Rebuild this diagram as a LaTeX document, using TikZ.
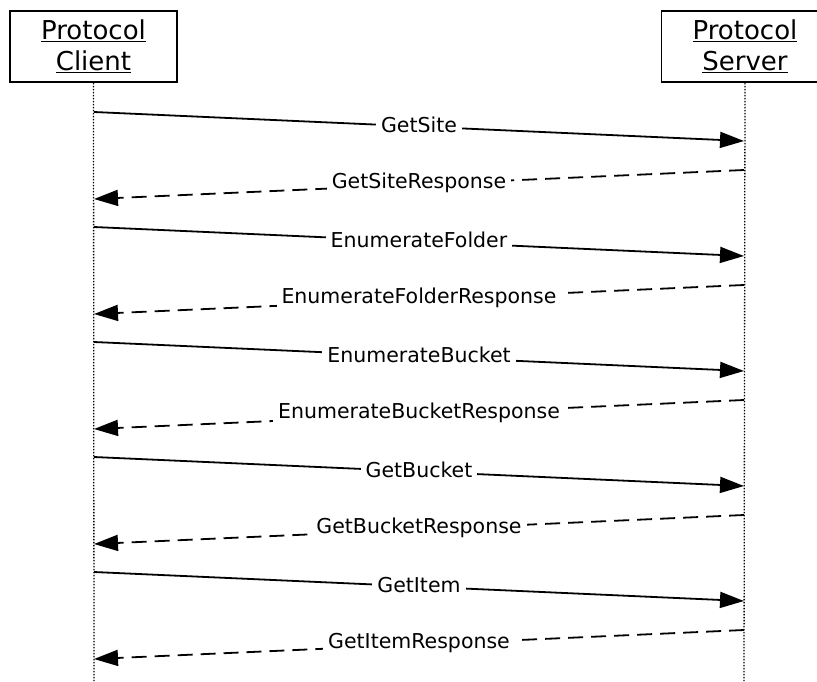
\documentclass[tikz,border=0pt]{standalone}
\usepackage{fontspec}
\setmainfont{DejaVu Sans}
\usetikzlibrary{arrows.meta}
\begin{document}
\begin{tikzpicture}[x=1pt,y=-1pt,
  actor/.style={draw,line width=1.5pt,minimum width=167pt,minimum height=71pt,
    align=center,font=\fontsize{26}{31}\selectfont},
  lifeline/.style={line width=1.3pt,dash pattern=on 1.5pt off 1.5pt},
  msg/.style={line width=1.8pt,-{Triangle[length=24pt,width=16pt]}},
  reply/.style={msg,dash pattern=on 15pt off 8pt},
  lbl/.style={fill=white,inner xsep=5pt,inner ysep=1pt,text height=15pt,text depth=4pt,
    font=\fontsize{20.5}{24}\selectfont}]
 \useasboundingbox (0,0) rectangle (817,681);
 \node[actor] (client) at (93.5,46.5) {\underline{Protocol}\\\underline{Client}}; %client
 \node[actor] (server) at (745,46.5) {\underline{Protocol}\\\underline{Server}}; %server
 \coordinate (clientend) at (94,681);
 \coordinate (serverend) at (744,681);
 \draw[lifeline] (client.south) -- (clientend);
 \draw[lifeline] (server.south) -- (serverend);
 \foreach \n/\m in {1/GetSite,2/EnumerateFolder,3/EnumerateBucket,4/GetBucket,5/GetItem}{
  \pgfmathsetmacro{\ya}{112+115*(\n-1)}
  \coordinate (rqa\n) at (94,\ya);
  \coordinate (rqb\n) at (744,\ya+29);
  \coordinate (rsa\n) at (744,\ya+58);
  \coordinate (rsb\n) at (94,\ya+87);
  \draw[msg] (rqa\n) -- node[lbl] (rq\n) {\m} (rqb\n); %request
  \draw[reply] (rsa\n) -- node[lbl,yshift=2pt] (rs\n) {\m Response} (rsb\n); %response
 }
\end{tikzpicture}
\end{document}
